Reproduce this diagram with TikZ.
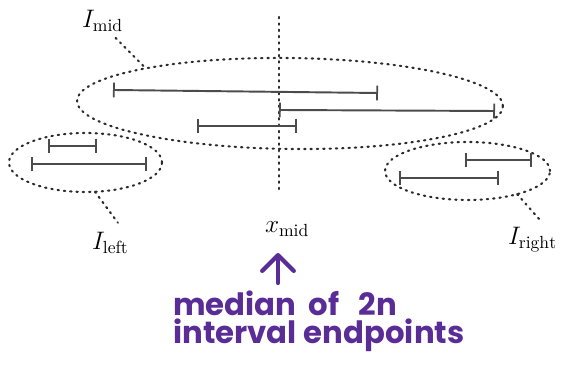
\documentclass[tikz,border=0pt]{standalone}
\usepackage{fontspec}
\newfontfamily\handfont{Poppins}
\usetikzlibrary{arrows.meta,shapes.geometric}
\definecolor{ink}{HTML}{2B2B2B}
\definecolor{marker}{HTML}{5A2C96}
\tikzset{
  group/.style={ellipse,draw=ink,line width=1.2pt,line cap=round,dash pattern=on 0.8pt off 2.8pt,inner sep=0pt,outer sep=0pt},
  leader/.style={draw=ink,line width=1.2pt,line cap=round,dash pattern=on 0.8pt off 2.8pt},
  span/.style={{Bar[width=8.5pt,line width=1pt]}-{Bar[width=8.5pt,line width=1pt]},draw=ink!85,line width=1.1pt},
  lbl/.style={inner sep=0pt,outer sep=0pt,font=\Large,anchor=base west},
  pen/.style={-{Straight Barb[length=9pt,width=18pt,line width=2.4pt,round]},draw=marker,line width=2.6pt,line cap=round},
  note/.style={inner sep=0pt,anchor=base west,align=left,text=marker,font=\handfont\bfseries\fontsize{17.5}{16}\selectfont}
}

\begin{document}
\begin{tikzpicture}[x=0.02cm,y=-0.02cm]
    \useasboundingbox (0,0) rectangle (569,367);
    % median line
    \coordinate (mtop) at (279,17);
    \coordinate (mbot) at (279,193);
    \draw[leader] (mtop) -- (mbot);
    % the three groups
    \node[group,rotate=-0.7,minimum width=8.52cm,minimum height=1.82cm] (midset) at (290,103.5) {};
    \node[group,minimum width=3.06cm,minimum height=1.18cm] (leftset) at (85.5,162.5) {};
    \node[group,minimum width=3.3cm,minimum height=1.16cm] (rightset) at (467.5,171) {};
    % intervals
    \draw[span] (113,90) -- (378,93);
    \draw[span] (279,110) -- (495,111);
    \draw[span] (197,126) -- (297,126);
    \draw[span] (48,146) -- (97,146);
    \draw[span] (31,164) -- (147,164);
    \draw[span] (465,160) -- (532,160);
    \draw[span] (399,178) -- (499,178);
    % labels
    \node[lbl] (Imid) at (82,28) {$I_{\mathrm{mid}}$};
    \node[lbl] (Ileft) at (92,250) {$I_{\mathrm{left}}$};
    \node[lbl] (Iright) at (508,245) {$I_{\mathrm{right}}$};
    \node[lbl] (xmid) at (265,233) {$x_{\mathrm{mid}}$};
    \draw[leader] ([xshift=0.26cm,yshift=-0.12cm]Imid.south) -- (midset.167);
    \draw[leader] (leftset.-72) -- ([xshift=0.15cm,yshift=0.2cm]Ileft.north);
    \draw[leader] (rightset.-25) -- ([xshift=0.18cm,yshift=0.12cm]Iright.north);
    % handwritten note
    \node[note] (note) at (173,344) {median\hspace{7pt}of\hspace{11pt}2n\\interval\hspace{4pt}endpoints};
    \coordinate (xtip) at (278,253);
    \draw[pen] (note.north -| xtip) ++(0,-8) -- (xtip);
\end{tikzpicture}
\end{document}
